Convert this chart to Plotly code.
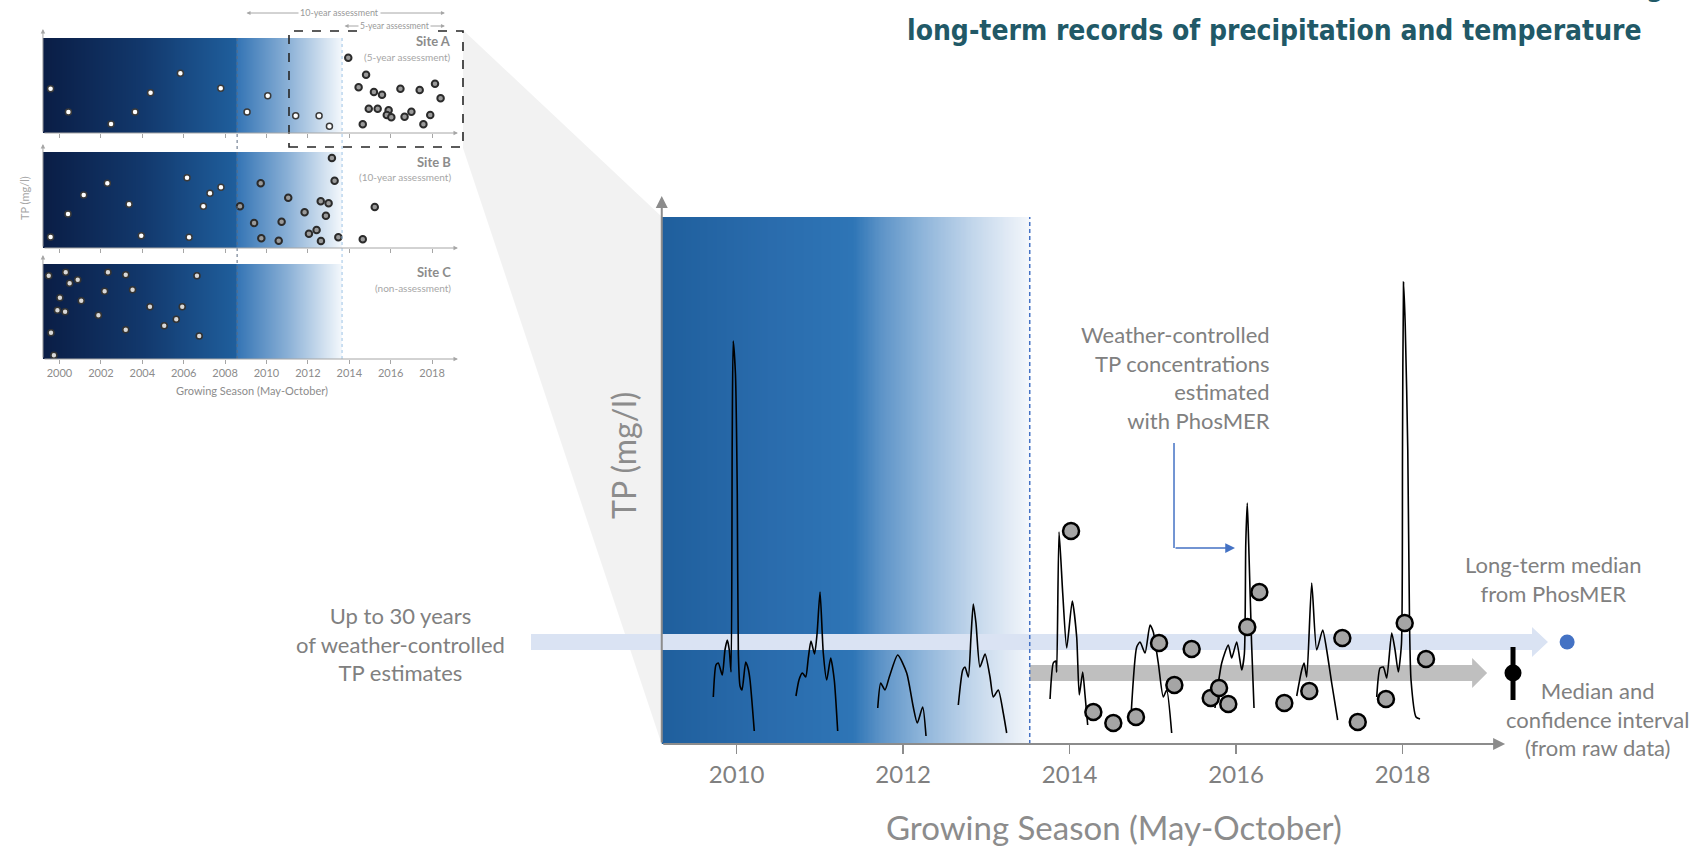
import numpy as np
import plotly.graph_objects as go

W, H = 1705, 846

# ======================= DATA =======================
main_tick_years = [2010, 2012, 2014, 2016, 2018]
inset_tick_years = [2000, 2002, 2004, 2006, 2008, 2010, 2012, 2014, 2016, 2018]

# --- inset, Site A (5-year assessment) ---
site_a_early_year = [1999.57, 2000.43, 2002.49, 2003.65, 2004.40, 2005.84, 2007.79, 2009.06, 2010.06, 2011.41, 2012.54, 2013.04]
site_a_early_tp = [0.443, 0.21, 0.09, 0.21, 0.403, 0.597, 0.447, 0.21, 0.373, 0.173, 0.173, 0.067]
site_a_late_year = [2013.95, 2014.45, 2014.81, 2015.19, 2015.58, 2014.94, 2015.37, 2015.90, 2015.81, 2016.03,
                    2014.65, 2016.47, 2017.40, 2018.14, 2018.41, 2016.67, 2017.00, 2017.58, 2017.91]
site_a_late_tp = [0.753, 0.457, 0.583, 0.41, 0.383, 0.243, 0.243, 0.227, 0.18, 0.157,
                  0.087, 0.443, 0.43, 0.493, 0.347, 0.163, 0.213, 0.087, 0.18]

# --- inset, Site B (10-year assessment) ---
site_b_early_year = [1999.57, 2000.41, 2001.17, 2002.31, 2003.36, 2003.95, 2006.16, 2006.26, 2006.95, 2007.27, 2007.80]
site_b_early_tp = [0.11, 0.34, 0.53, 0.647, 0.437, 0.123, 0.703, 0.107, 0.417, 0.547, 0.607]
site_b_late_year = [2008.72, 2009.40, 2009.72, 2009.75, 2010.59, 2010.73, 2011.05, 2011.84, 2012.05, 2012.42,
                    2012.62, 2012.63, 2012.87, 2013.00, 2013.16, 2013.29, 2013.47, 2014.65, 2015.23]
site_b_late_tp = [0.417, 0.25, 0.647, 0.097, 0.073, 0.263, 0.503, 0.357, 0.143, 0.18,
                  0.467, 0.07, 0.323, 0.447, 0.90, 0.673, 0.107, 0.087, 0.41]

# --- inset, Site C (non-assessment) ---
site_c_year = [1999.48, 2000.30, 2000.49, 2000.88, 2000.02, 2001.05, 1999.90, 2000.27, 1999.59, 1999.73, 2001.88,
               2002.18, 2002.34, 2003.20, 2003.53, 2003.20, 2004.37, 2005.06, 2005.64, 2005.93, 2006.64, 2006.75]
site_c_tp = [0.833, 0.867, 0.757, 0.793, 0.613, 0.583, 0.487, 0.473, 0.263, 0.037, 0.437,
             0.677, 0.867, 0.843, 0.693, 0.293, 0.523, 0.333, 0.397, 0.523, 0.833, 0.23]

# --- main chart: weather-controlled TP estimates (PhosMER), one list per growing season ---
season_2010_year = [2009.719, 2009.751, 2009.779, 2009.827, 2009.859, 2009.887, 2009.911, 2009.932, 2009.946, 2009.958,
                    2009.985, 2010.007, 2010.020, 2010.040, 2010.064, 2010.108, 2010.136, 2010.160, 2010.211]
season_2010_tp = [0.047, 0.079, 0.081, 0.069, 0.094, 0.104, 0.094, 0.072, 0.300, 0.403,
                  0.370, 0.250, 0.090, 0.058, 0.054, 0.082, 0.076, 0.064, 0.013]
season_2011_year = [2010.712, 2010.748, 2010.788, 2010.829, 2010.860, 2010.892, 2010.935, 2010.965, 2011.001, 2011.040,
                    2011.081, 2011.129, 2011.172, 2011.213]
season_2011_tp = [0.048, 0.064, 0.071, 0.067, 0.086, 0.103, 0.090, 0.110, 0.152, 0.091, 0.064, 0.086, 0.064, 0.013]
season_2012_year = [2011.694, 2011.730, 2011.781, 2011.833, 2011.934, 2012.042, 2012.121, 2012.169, 2012.234, 2012.274]
season_2012_tp = [0.036, 0.061, 0.054, 0.067, 0.089, 0.071, 0.037, 0.021, 0.037, 0.008]
season_2013_year = [2012.662, 2012.715, 2012.742, 2012.782, 2012.814, 2012.842, 2012.874, 2012.922, 2012.983, 2013.043,
                    2013.082, 2013.142, 2013.202, 2013.243]
season_2013_tp = [0.039, 0.074, 0.077, 0.067, 0.107, 0.140, 0.121, 0.077, 0.090, 0.067, 0.047, 0.054, 0.031, 0.011]
season_2014_year = [2013.764, 2013.803, 2013.832, 2013.844, 2013.872, 2013.916, 2013.964, 2014.031, 2014.084, 2014.115,
                    2014.156, 2014.184, 2014.216]
season_2014_tp = [0.045, 0.081, 0.083, 0.072, 0.212, 0.151, 0.096, 0.143, 0.107, 0.049, 0.072, 0.049, 0.019]
season_2015_year = [2014.736, 2014.805, 2014.845, 2014.905, 2014.965, 2015.004, 2015.064, 2015.124, 2015.165, 2015.225]
season_2015_tp = [0.027, 0.097, 0.102, 0.091, 0.119, 0.112, 0.081, 0.047, 0.054, 0.011]
season_2016_year = [2015.745, 2015.826, 2015.905, 2015.946, 2016.006, 2016.066, 2016.098, 2016.115, 2016.133, 2016.150,
                    2016.185, 2016.214]
season_2016_tp = [0.036, 0.081, 0.099, 0.086, 0.102, 0.074, 0.090, 0.200, 0.241, 0.200, 0.100, 0.036]
season_2017_year = [2016.727, 2016.787, 2016.815, 2016.847, 2016.907, 2016.967, 2017.039, 2017.087, 2017.147, 2017.219]
season_2017_tp = [0.048, 0.074, 0.081, 0.067, 0.161, 0.094, 0.114, 0.094, 0.061, 0.024]
season_2018_year = [2017.688, 2017.728, 2017.767, 2017.808, 2017.868, 2017.908, 2017.947, 2017.985, 2017.998, 2018.010,
                    2018.030, 2018.061, 2018.082, 2018.100, 2018.160, 2018.208]
season_2018_tp = [0.047, 0.076, 0.077, 0.066, 0.111, 0.094, 0.072, 0.100, 0.300, 0.462,
                  0.420, 0.294, 0.121, 0.064, 0.027, 0.025]

# --- main chart: raw TP samples ---
raw_year = [2014.016, 2014.284, 2014.524, 2014.796, 2015.073, 2015.257, 2015.465, 2015.694, 2015.794, 2015.905,
            2016.133, 2016.278, 2016.578, 2016.878, 2017.275, 2017.460, 2017.799, 2018.024, 2018.280]
raw_tp = [0.213, 0.032, 0.021, 0.027, 0.101, 0.059, 0.095, 0.046, 0.056, 0.040,
          0.117, 0.152, 0.041, 0.053, 0.106, 0.022, 0.045, 0.121, 0.085]

phosmer_median = 0.102
raw_median = 0.071
raw_ci_low, raw_ci_high = 0.044, 0.097

# ======================= GEOMETRY / STYLE =======================
FONT = "Lato, 'Open Sans', sans-serif"
GREY_TXT = "#808080"
AX_GREY = "#8c8c8c"

# main chart scale: px = 736.7 + (yr-2010)*83.25 ; py = 744 - tp*1000
MX0, MPX, MPY = 736.7, 83.25, 744.0
main_xrange = [2010 - MX0 / MPX, 2010 + (W - MX0) / MPX]
main_yrange = [(MPY - H) / 1000.0, MPY / 1000.0]
main_x_start, main_x_end = 2009.10, 2019.23
main_y_top = 0.548
blue_top = 0.527
split_year = 2013.52

# inset scale: px = 59.5 + (yr-2000)*20.7
IX0, IPX = 59.5, 20.7
inset_xrange = [2000 + (40 - IX0) / IPX, 2000 + (468 - IX0) / IPX]
inset_x_start, inset_x_end = 1999.2, 2019.25
inset_fade_end = 2013.65
inset_10y_start = 2008.58

panels = [  # (xaxis, yaxis, axis bottom px, gradient top value)
    ("x2", "y2", 133, 0.95),
    ("x3", "y3", 248, 0.96),
    ("x4", "y4", 359, 0.95),
]


def fx(p):
    return p / W


def fy(p):
    return 1 - p / H


fig = go.Figure()

# ---------- main gradient panel ----------
main_scale = [[0.0, "#1f5f9d"], [0.30, "#2a6cad"], [0.52, "#2e75b6"], [0.60, "#5f95c8"],
              [0.71, "#8fb5da"], [0.845, "#c2d6eb"], [0.98, "#edf2f9"], [1.0, "#f5f8fc"]]
edges = np.linspace(main_x_start, split_year, 301)
cent = (edges[:-1] + edges[1:]) / 2
fig.add_trace(go.Heatmap(x=edges, y=[0, blue_top], z=[cent], colorscale=main_scale,
                         zmin=main_x_start, zmax=split_year, showscale=False, hoverinfo="skip",
                         xaxis="x", yaxis="y"))


def arrow_band(x0, xb, xt, yc, half, head):
    xs = [x0, xb, xb, xt, xb, xb, x0, x0]
    ys = [yc + half, yc + half, yc + head, yc, yc - head, yc - half, yc - half, yc + half]
    return xs, ys


bx, by = arrow_band(2007.529, 2019.553, 2019.745, phosmer_median, 0.008, 0.015)
fig.add_trace(go.Scatter(x=bx, y=by, fill="toself", fillcolor="#dae3f3", mode="lines",
                         line=dict(width=0, color="#dae3f3"), hoverinfo="skip", xaxis="x", yaxis="y"))
gx, gy = arrow_band(split_year, 2018.834, 2019.014, raw_median, 0.008, 0.015)
fig.add_trace(go.Scatter(x=gx, y=gy, fill="toself", fillcolor="#bfbfbf", mode="lines",
                         line=dict(width=0, color="#bfbfbf"), hoverinfo="skip", xaxis="x", yaxis="y"))

seasons = [(season_2010_year, season_2010_tp), (season_2011_year, season_2011_tp),
           (season_2012_year, season_2012_tp), (season_2013_year, season_2013_tp),
           (season_2014_year, season_2014_tp), (season_2015_year, season_2015_tp),
           (season_2016_year, season_2016_tp), (season_2017_year, season_2017_tp),
           (season_2018_year, season_2018_tp)]
for sx, sy in seasons:
    fig.add_trace(go.Scatter(x=sx, y=sy, mode="lines",
                             line=dict(color="black", width=1.6, shape="spline", smoothing=0.6),
                             hoverinfo="skip", xaxis="x", yaxis="y"))

fig.add_trace(go.Scatter(x=raw_year, y=raw_tp, mode="markers",
                         marker=dict(size=16, color="#a5a5a5", line=dict(color="black", width=2.5)),
                         hoverinfo="skip", xaxis="x", yaxis="y"))

fig.add_trace(go.Scatter(x=[2019.975], y=[phosmer_median], mode="markers",
                         marker=dict(size=15, color="#4472c4"), hoverinfo="skip", xaxis="x", yaxis="y"))
fig.add_trace(go.Scatter(x=[2019.325], y=[raw_median], mode="markers",
                         marker=dict(size=17, color="black"),
                         error_y=dict(type="data", symmetric=False, array=[raw_ci_high - raw_median],
                                      arrayminus=[raw_median - raw_ci_low], thickness=5, width=0, color="black"),
                         hoverinfo="skip", xaxis="x", yaxis="y"))

# ---------- inset panels ----------
inset_scale = [[0.0, "#0a1d45"], [0.33, "#12386c"], [0.645, "#1f5e9c"], [0.652, "#3575b5"],
               [0.82, "#8ab0d6"], [1.0, "#f4f8fc"]]
iedges = np.linspace(inset_x_start, inset_fade_end, 301)
icent = (iedges[:-1] + iedges[1:]) / 2
for xa, ya, _, top in panels:
    fig.add_trace(go.Heatmap(x=iedges, y=[0, top], z=[icent], colorscale=inset_scale,
                             zmin=inset_x_start, zmax=inset_fade_end, showscale=False,
                             hoverinfo="skip", xaxis=xa, yaxis=ya))

white_dot = dict(size=6, color="white", line=dict(color="#3a3a3a", width=1.5))
grey_dot = dict(size=6.5, color="#9a9a9a", line=dict(color="#2b2b2b", width=2))
c_dot = dict(size=6, color="#d9d9d9", line=dict(color="#333333", width=1.6))
fig.add_trace(go.Scatter(x=site_a_early_year, y=site_a_early_tp, mode="markers", marker=white_dot,
                         hoverinfo="skip", xaxis="x2", yaxis="y2"))
fig.add_trace(go.Scatter(x=site_a_late_year, y=site_a_late_tp, mode="markers", marker=grey_dot,
                         hoverinfo="skip", xaxis="x2", yaxis="y2"))
fig.add_trace(go.Scatter(x=site_b_early_year, y=site_b_early_tp, mode="markers", marker=white_dot,
                         hoverinfo="skip", xaxis="x3", yaxis="y3"))
fig.add_trace(go.Scatter(x=site_b_late_year, y=site_b_late_tp, mode="markers", marker=grey_dot,
                         hoverinfo="skip", xaxis="x3", yaxis="y3"))
fig.add_trace(go.Scatter(x=site_c_year, y=site_c_tp, mode="markers", marker=c_dot,
                         hoverinfo="skip", xaxis="x4", yaxis="y4"))

# ---------- axes ----------
layout_axes = dict(
    xaxis=dict(domain=[0, 1], range=main_xrange, anchor="free", position=fy(MPY),
               tickmode="array", tickvals=main_tick_years, ticks="outside", ticklen=9, tickwidth=1.5,
               tickcolor=AX_GREY, tickfont=dict(family=FONT, size=24, color=GREY_TXT),
               showline=False, showgrid=False, zeroline=False, fixedrange=True),
    yaxis=dict(domain=[0, 1], range=main_yrange, visible=False, fixedrange=True),
)
for i, (xa, ya, bottom, top) in enumerate(panels):
    n = xa[1:]
    layout_axes["xaxis" + n] = dict(domain=[fx(40), fx(468)], range=inset_xrange, anchor=ya,
                                    tickmode="array", tickvals=inset_tick_years, ticks="outside",
                                    ticklen=4, tickwidth=1, tickcolor="#a6a6a6",
                                    showticklabels=(i == 2),
                                    tickfont=dict(family=FONT, size=11, color="#8c8c8c"),
                                    showline=False, showgrid=False, zeroline=False)
    layout_axes["yaxis" + n] = dict(domain=[fy(bottom), fy(bottom - 108)], range=[0, 1.08],
                                    visible=False, anchor=xa)

# ---------- shapes ----------
shapes = []
funnel = [(463, 30), (662, 217), (662, 745), (463, 148)]
path = "M " + " L ".join(f"{fx(a):.5f},{fy(b):.5f}" for a, b in funnel) + " Z"
shapes.append(dict(type="path", path=path, xref="paper", yref="paper", fillcolor="#f2f2f2",
                   line=dict(width=0), layer="below"))
shapes.append(dict(type="rect", xref="paper", yref="paper", x0=fx(289), x1=fx(463), y0=fy(147), y1=fy(31),
                   line=dict(color="#262626", width=1.6, dash="dash"), fillcolor="rgba(0,0,0,0)"))
shapes.append(dict(type="line", xref="x2", yref="paper", x0=inset_10y_start, x1=inset_10y_start,
                   y0=fy(359), y1=fy(38), line=dict(color="#5a6a80", width=1, dash="dot")))
shapes.append(dict(type="line", xref="x2", yref="paper", x0=inset_fade_end, x1=inset_fade_end,
                   y0=fy(359), y1=fy(38), line=dict(color="#9dc3e6", width=1, dash="dot")))
shapes.append(dict(type="line", xref="x", yref="y", x0=split_year, x1=split_year, y0=0, y1=blue_top,
                   line=dict(color="#4472c4", width=1.5, dash="4px,3px")))
shapes.append(dict(type="line", xref="x", yref="y", x0=2015.253, x1=2015.253, y0=0.301, y1=0.196,
                   line=dict(color="#4472c4", width=1.5)))

# ---------- annotations ----------
ann = []


def arrow(x, y, ax, ay, xref, yref, color, width, size, side="end"):
    ann.append(dict(x=x, y=y, ax=ax, ay=ay, xref=xref, yref=yref, axref=xref, ayref=yref, text="",
                    showarrow=True, arrowhead=2, arrowsize=size, arrowwidth=width, arrowcolor=color,
                    arrowside=side))


def text(t, x, y, size, color=GREY_TXT, xanchor="center", yanchor="middle", align="center", **kw):
    ann.append(dict(text=t, x=fx(x), y=fy(y), xref="paper", yref="paper", showarrow=False,
                    xanchor=xanchor, yanchor=yanchor, align=align,
                    font=dict(family=kw.pop("family", FONT), size=size, color=color), **kw))


# main axis lines
arrow(main_x_end, 0, main_x_start, 0, "x", "y", AX_GREY, 2, 1.2)
arrow(main_x_start, main_y_top, main_x_start, 0, "x", "y", AX_GREY, 2, 1.2)
# PhosMER pointer
arrow(2015.986, 0.196, 2015.253, 0.196, "x", "y", "#4472c4", 1.5, 1.3)
# inset axis lines
for xa, ya, bottom, top in panels:
    arrow(inset_x_end, 0, inset_x_start, 0, xa, ya, "#a6a6a6", 1, 0.9)
    arrow(inset_x_start, 1.04, inset_x_start, 0, xa, ya, "#a6a6a6", 1, 0.9)

# assessment span arrows (top of inset)
ann.append(dict(x=2018.62, y=fy(13), ax=2008.96, ay=0, xref="x2", yref="paper", axref="x2", ayref="pixel",
                text="", showarrow=True, arrowhead=2, arrowsize=0.8, arrowwidth=1, arrowcolor="#a6a6a6",
                arrowside="end+start"))
ann.append(dict(x=2018.62, y=fy(26), ax=2013.70, ay=0, xref="x2", yref="paper", axref="x2", ayref="pixel",
                text="", showarrow=True, arrowhead=2, arrowsize=0.8, arrowwidth=1, arrowcolor="#a6a6a6",
                arrowside="end+start"))
text("10-year assessment", 339, 13, 9, color="#999999", bgcolor="white")
text("5-year assessment", 394, 26, 8.5, color="#999999", bgcolor="white")

# inset labels
text("<b>Site A</b>", 453, 41, 13, color="#8c8c8c", xanchor="right")
text("(5-year assessment)", 453, 57, 10, color="#a6a6a6", xanchor="right")
text("<b>Site B</b>", 453, 162, 13, color="#8c8c8c", xanchor="right")
text("(10-year assessment)", 453, 177, 10, color="#a6a6a6", xanchor="right")
text("<b>Site C</b>", 453, 272, 13, color="#8c8c8c", xanchor="right")
text("(non-assessment)", 453, 288, 10, color="#a6a6a6", xanchor="right")
text("TP (mg/l)", 24, 198, 11, color="#a6a6a6", textangle=-90)
text("Growing Season (May-October)", 252, 391, 11, color="#8c8c8c")

# main labels
text("TP (mg/l)", 623, 456, 32, color="#8c8c8c", textangle=-90)
text("Growing Season (May-October)", 1114, 827, 33, color="#8c8c8c")
text("Up to 30 years<br>of weather-controlled<br>TP estimates", 400, 644, 22)
text("Weather-controlled<br>TP concentrations<br>estimated<br>with PhosMER", 1272, 377, 22,
     xanchor="right", align="right")
text("Long-term median<br>from PhosMER", 1553, 579, 22)
text("Median and<br>confidence interval<br>(from raw data)", 1597, 719, 22)

# title (first line lies mostly above the top edge, as in the reference)
TITLE_FONT = "'Liberation Sans Narrow', 'DejaVu Sans Condensed', 'Arial Narrow', sans-serif"
text("<b>Weather-controlled TP concentrations estimated using</b>", 1274, -13, 28, color="#215967",
     family=TITLE_FONT)
text("<b>long-term records of precipitation and temperature</b>", 1274, 31, 28, color="#215967",
     family=TITLE_FONT)

fig.update_layout(width=W, height=H, margin=dict(l=0, r=0, t=0, b=0, pad=0),
                  paper_bgcolor="white", plot_bgcolor="rgba(0,0,0,0)", showlegend=False,
                  template="none", shapes=shapes, annotations=ann, **layout_axes)

fig.write_html("out.html", config={"displayModeBar": False, "staticPlot": True},
               post_script="document.body.style.margin='0';document.body.style.overflow='hidden';")
